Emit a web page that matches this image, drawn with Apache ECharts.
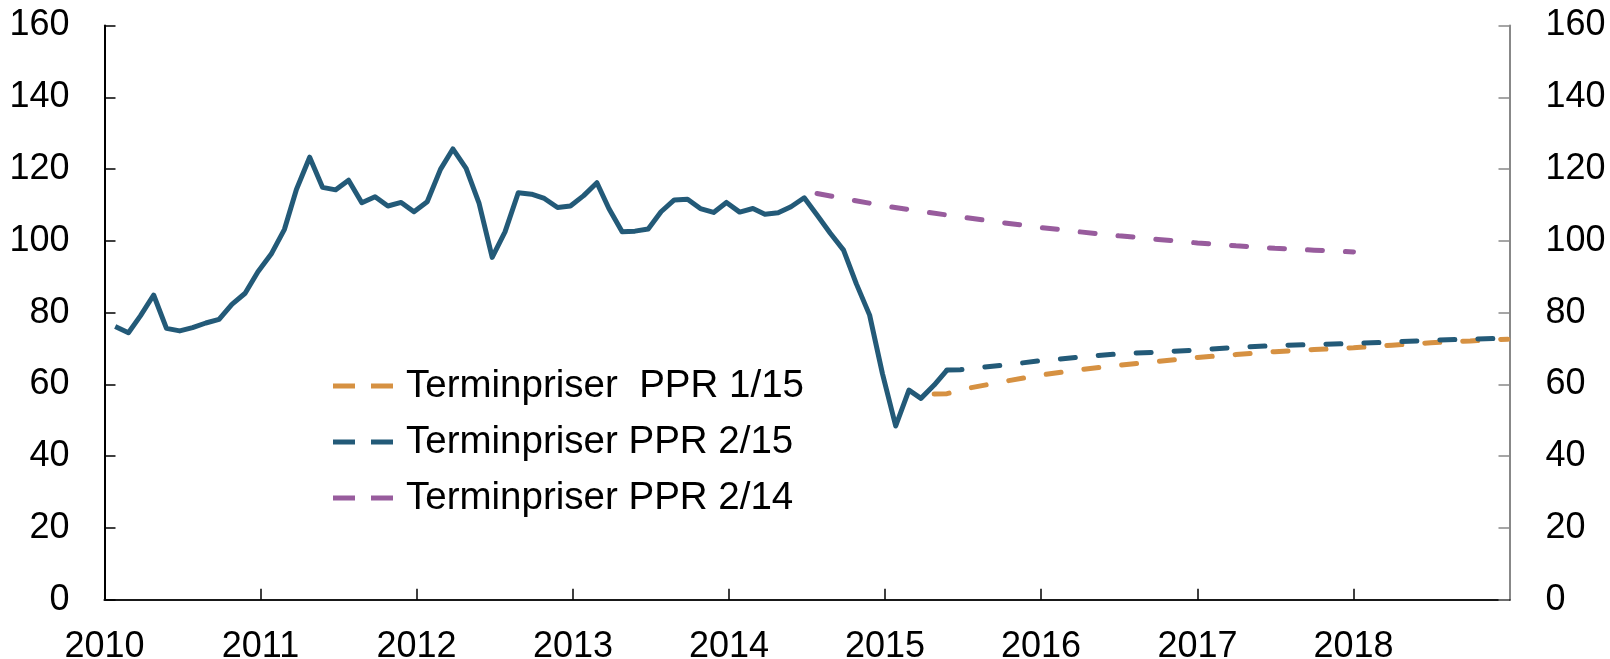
<!DOCTYPE html>
<html>
<head>
<meta charset="utf-8">
<title>Oljepris</title>
<script src="https://cdn.jsdelivr.net/npm/echarts@6/dist/echarts.min.js"></script>
<style>
  html, body { margin: 0; padding: 0; background: #fff; }
  #chart { width: 1610px; height: 659px; }
</style>
</head>
<body>
<div id="chart"></div>
<script>
// monthly spot prices, one array per year (Jan..Dec)
const spot2010 = [76.1, 74.4, 79.1, 84.9, 75.6, 74.9, 75.8, 77.1, 78.1, 82.3, 85.4, 91.4]
const spot2011 = [96.3, 103.2, 114.3, 123.3, 114.9, 114.2, 116.9, 110.6, 112.3, 109.7, 110.7, 108.1]
const spot2012 = [110.9, 119.9, 125.6, 120.2, 110.6, 95.4, 102.5, 113.4, 113.0, 111.8, 109.3, 109.7]
const spot2013 = [112.6, 116.2, 109.0, 102.5, 102.7, 103.3, 108.1, 111.4, 111.6, 109.0, 107.9, 110.7]
const spot2014 = [108.0, 109.0, 107.4, 107.8, 109.5, 112.0, 107.2, 102.1, 97.4, 88.0, 79.3, 63.0]
const spot2015 = [48.4, 58.4, 56.1, 59.8, 64.0]
const spotYears = [2010, 2011, 2012, 2013, 2014, 2015]

// forward curves
const ppr115Dates = ['2015-04-26', '2015-05-26', '2015-07-01', '2015-10-01', '2016-01-01', '2016-04-01',
  '2016-07-01', '2016-10-01', '2017-01-01', '2017-04-01', '2017-07-01', '2017-10-01',
  '2018-01-01', '2018-04-01', '2018-07-01', '2018-10-01', '2018-12-28']
const ppr115Values = [57.3, 57.4, 58.6, 60.7, 62.6, 64.1, 65.3, 66.4, 67.5, 68.3, 69.1, 69.7,
  70.2, 70.9, 71.6, 72.1, 72.6]

const ppr215Dates = ['2015-05-26', '2015-06-26', '2015-10-01', '2016-01-01', '2016-04-01', '2016-07-01',
  '2016-10-01', '2017-01-01', '2017-04-01', '2017-07-01', '2017-10-01', '2018-01-01',
  '2018-04-01', '2018-07-01', '2018-11-26']
const ppr215Values = [64.0, 64.1, 65.3, 66.6, 67.6, 68.5, 69.0, 69.6, 70.3, 70.8, 71.1, 71.4,
  71.8, 72.3, 72.8]

const ppr214Dates = ['2014-07-26', '2014-10-01', '2015-01-01', '2015-04-01', '2015-07-01', '2015-10-01',
  '2016-01-01', '2016-04-01', '2016-07-01', '2016-10-01', '2017-01-01', '2017-04-01',
  '2017-07-01', '2017-10-01', '2018-01-01']
const ppr214Values = [113.2, 111.7, 109.7, 108.1, 106.6, 105.1, 103.7, 102.5, 101.4, 100.4, 99.4, 98.6,
  97.9, 97.4, 96.9]

const yTicks = [0, 20, 40, 60, 80, 100, 120, 140, 160]
const legendNames = ['Terminpriser  PPR 1/15', 'Terminpriser PPR 2/15', 'Terminpriser PPR 2/14']

const blue = '#235A78'
const orange = '#D69142'
const purple = '#985C9D'
const font = 'Liberation Sans, Arial, sans-serif'

const spotByYear = [spot2010, spot2011, spot2012, spot2013, spot2014, spot2015]
const spotData = []
spotByYear.forEach((vals, yi) => {
  vals.forEach((v, m) => {
    const mm = String(m + 1).padStart(2, '0')
    spotData.push([`${spotYears[yi]}-${mm}-26`, v])
  })
})

const pairs = (dates, vals) => dates.map((d, i) => [d, vals[i]])

const dashed = (color) => ({
  color,
  width: 5,
  type: [15, 23],
  cap: 'round'
})

// legend swatch: two short dashes
const dashIcon = 'path://M0,0h22v5h-22z M38,0h22v5h-22z'

const year = 365 * 24 * 3600 * 1000

const yAxisBase = {
  type: 'value',
  min: yTicks[0],
  max: yTicks[yTicks.length - 1],
  interval: yTicks[1] - yTicks[0],
  splitLine: { show: false },
  axisLabel: { color: '#000', fontSize: 36, fontFamily: font }
}

const chart = echarts.init(document.getElementById('chart'))
chart.setOption({
  animation: false,
  grid: { left: 104.5, right: 100.5, top: 25.5, bottom: 59.3, outerBoundsMode: 'none' },
  legend: {
    data: legendNames.map((n) => ({ name: n, icon: dashIcon })),
    orient: 'vertical',
    left: 333,
    top: 366,
    padding: 0,
    itemWidth: 60,
    itemHeight: 5,
    itemGap: 16,
    selectedMode: false,
    textStyle: { color: '#000', fontSize: 38.5, fontFamily: font, lineHeight: 40, padding: [0, 0, 0, 8] }
  },
  xAxis: [
    {
      type: 'time',
      position: 'bottom',
      min: '2010-01-01',
      max: '2019-01-01',
      minInterval: year,
      maxInterval: year + 24 * 3600 * 1000,
      splitLine: { show: false },
      axisLine: { lineStyle: { color: '#000', width: 2 } },
      axisTick: { inside: true, length: 11, lineStyle: { color: '#000', width: 1.5 } },
      axisLabel: {
        color: '#000',
        fontSize: 36,
        fontFamily: font,
        margin: 29,
        formatter: (v) => {
          const y = new Date(v).getFullYear()
          return y >= 2019 ? '' : String(y)
        }
      }
    },
    {
      type: 'time',
      position: 'top',
      min: '2010-01-01',
      max: '2019-01-01',
      splitLine: { show: false },
      axisLine: { lineStyle: { color: '#222', width: 1.5 } },
      axisTick: { show: false },
      axisLabel: { show: false }
    }
  ],
  yAxis: [
    {
      ...yAxisBase,
      position: 'left',
      axisLine: { show: true, lineStyle: { color: '#000', width: 2 } },
      axisTick: { show: true, inside: true, length: 11, lineStyle: { color: '#000', width: 1.5 } },
      axisLabel: { ...yAxisBase.axisLabel, margin: 35 }
    },
    {
      ...yAxisBase,
      position: 'right',
      axisLine: { show: true, lineStyle: { color: '#888', width: 2 } },
      axisTick: { show: true, inside: true, length: 11, lineStyle: { color: '#888', width: 1.5 } },
      axisLabel: { ...yAxisBase.axisLabel, margin: 36 }
    }
  ],
  series: [
    {
      name: 'Spot',
      type: 'line',
      data: spotData,
      symbol: 'none',
      lineStyle: { color: blue, width: 5, join: 'round' },
      itemStyle: { color: blue },
      z: 3
    },
    {
      name: legendNames[0],
      type: 'line',
      data: pairs(ppr115Dates, ppr115Values),
      symbol: 'none',
      lineStyle: dashed(orange),
      itemStyle: { color: orange },
      z: 2
    },
    {
      name: legendNames[1],
      type: 'line',
      data: pairs(ppr215Dates, ppr215Values),
      symbol: 'none',
      lineStyle: dashed(blue),
      itemStyle: { color: blue },
      z: 4
    },
    {
      name: legendNames[2],
      type: 'line',
      data: pairs(ppr214Dates, ppr214Values),
      symbol: 'none',
      lineStyle: dashed(purple),
      itemStyle: { color: purple },
      z: 2
    }
  ]
})
</script>
</body>
</html>
